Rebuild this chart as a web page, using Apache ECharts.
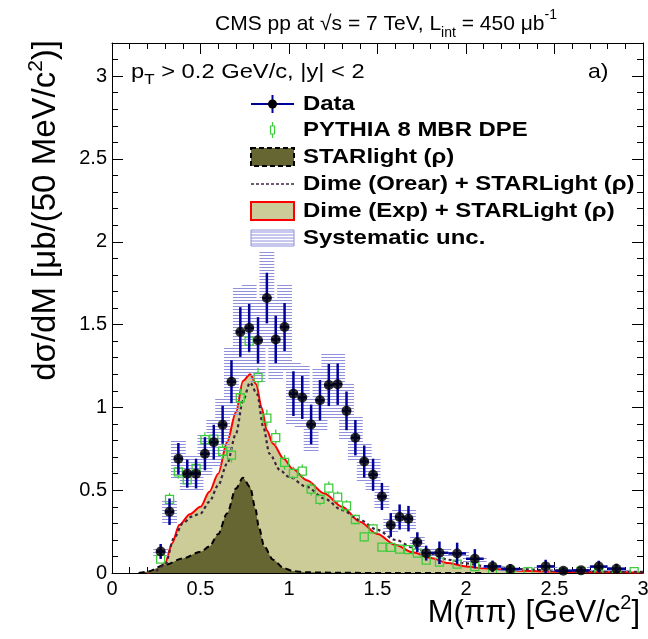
<!DOCTYPE html>
<html>
<head>
<meta charset="utf-8">
<title>CMS pp 7 TeV - M(pipi)</title>
<script src="https://cdn.jsdelivr.net/npm/echarts@6/dist/echarts.min.js"></script>
<style>
  html, body { margin: 0; padding: 0; background: #fff; }
  #chart { width: 648px; height: 639px; }
</style>
</head>
<body>
<div id="chart"></div>
<script>
// ---- data ----
// measured points (bin centre, value, stat error, syst error)
const dataX = [0.275, 0.325, 0.375, 0.425, 0.475, 0.525, 0.575, 0.625, 0.675, 0.725,
  0.775, 0.825, 0.875, 0.925, 0.975, 1.025, 1.075, 1.125, 1.175, 1.225,
  1.275, 1.325, 1.375, 1.425, 1.475, 1.525, 1.575, 1.625, 1.675, 1.725,
  1.775, 1.85, 1.95, 2.05, 2.15, 2.25, 2.45, 2.55, 2.65, 2.75, 2.85];
const dataY = [0.13, 0.37, 0.69, 0.60, 0.60, 0.72, 0.79, 0.895, 1.155, 1.455,
  1.48, 1.405, 1.66, 1.41, 1.485, 1.083, 1.06, 0.897, 1.043, 1.135,
  1.14, 0.979, 0.817, 0.673, 0.593, 0.462, 0.29, 0.338, 0.328, 0.186,
  0.12, 0.122, 0.118, 0.086, 0.04, 0.024, 0.04, 0.014, 0.016, 0.039, 0.026];
const dataStat = [0.045, 0.08, 0.095, 0.085, 0.09, 0.10, 0.105, 0.115, 0.13, 0.15,
  0.145, 0.14, 0.153, 0.143, 0.145, 0.135, 0.13, 0.12, 0.122, 0.127,
  0.125, 0.117, 0.107, 0.097, 0.097, 0.082, 0.072, 0.076, 0.077, 0.06,
  0.045, 0.068, 0.065, 0.058, 0.035, 0.03, 0.04, 0.02, 0.02, 0.035, 0.03];
const dataSyst = [0.03, 0.07, 0.12, 0.11, 0.11, 0.13, 0.14, 0.16, 0.21, 0.27,
  0.27, 0.25, 0.29, 0.25, 0.26, 0.19, 0.19, 0.16, 0.19, 0.20,
  0.20, 0.17, 0.14, 0.12, 0.10, 0.08, 0.05, 0.06, 0.06, 0.035,
  0.025, 0.025, 0.025, 0.02, 0.01, 0.008, 0.01, 0.005, 0.005, 0.01, 0.008];
// half bin widths (50 MeV bins, then 100 MeV bins above 1.8)
const dataHalfBin = [
  0.025, 0.025, 0.025, 0.025, 0.025, 0.025, 0.025, 0.025, 0.025, 0.025,
  0.025, 0.025, 0.025, 0.025, 0.025, 0.025, 0.025, 0.025, 0.025, 0.025,
  0.025, 0.025, 0.025, 0.025, 0.025, 0.025, 0.025, 0.025, 0.025, 0.025,
  0.025, 0.05, 0.05, 0.05, 0.05, 0.05, 0.05, 0.05, 0.05, 0.05, 0.05];

// PYTHIA 8 MBR DPE
const pyX = [0.275, 0.325, 0.375, 0.425, 0.475, 0.525, 0.575, 0.625, 0.675, 0.725,
  0.775, 0.825, 0.875, 0.925, 0.975, 1.025, 1.075, 1.125, 1.175, 1.225,
  1.275, 1.325, 1.375, 1.425, 1.475, 1.525, 1.575, 1.625, 1.675, 1.725,
  1.775, 1.85, 1.95, 2.05, 2.15, 2.25, 2.35, 2.45, 2.55, 2.65, 2.75, 2.85, 2.95];
const pyY = [0.084, 0.444, 0.61, 0.562, 0.632, 0.805, 0.808, 0.735, 0.712, 1.058,
  1.40, 1.18, 0.935, 0.817, 0.668, 0.602, 0.615, 0.507, 0.444, 0.512,
  0.458, 0.405, 0.323, 0.218, 0.267, 0.156, 0.155, 0.144, 0.141, 0.12,
  0.078, 0.066, 0.054, 0.038, 0.02, 0.012, 0.008, 0.008, 0.004, 0.01, 0.006, 0.006, 0.008];
const pyErr = [0.02, 0.04, 0.04, 0.04, 0.04, 0.045, 0.045, 0.045, 0.045, 0.055,
  0.07, 0.06, 0.05, 0.05, 0.045, 0.04, 0.04, 0.04, 0.035, 0.04,
  0.035, 0.035, 0.03, 0.03, 0.03, 0.025, 0.025, 0.02, 0.02, 0.02,
  0.015, 0.01, 0.01, 0.008, 0.006, 0.004, 0.003, 0.003, 0.002, 0.003, 0.002, 0.002, 0.003];

// STARlight (rho)
const starX = [0.15, 0.2, 0.3, 0.4, 0.5, 0.55, 0.6, 0.65, 0.7, 0.74, 0.78, 0.81, 0.83, 0.86, 0.91, 0.97, 1.02, 1.1, 1.3, 1.6, 2.0, 2.1];
const starY = [0, 0.008, 0.05, 0.088, 0.128, 0.16, 0.235, 0.36, 0.51, 0.575, 0.52, 0.39, 0.275, 0.16, 0.08, 0.03, 0.012, 0.004, 0.001, 0, 0, 0];

// Dime (Exp) + STARLight
const expX = [0.2, 0.25, 0.3, 0.34, 0.38, 0.44, 0.5, 0.55, 0.6, 0.65, 0.7, 0.74, 0.78, 0.815, 0.845, 0.875, 0.91, 0.97, 1.02,
  1.1, 1.2, 1.3, 1.4, 1.5, 1.6, 1.7, 1.8, 1.9, 2.0, 2.1, 2.3, 2.5, 2.7, 2.9, 3.0];
const expY = [0, 0.012, 0.06, 0.18, 0.29, 0.355, 0.40, 0.49, 0.60, 0.79, 0.97, 1.16, 1.2, 1.14, 1.0, 0.86, 0.78, 0.69, 0.63,
  0.56, 0.48, 0.40, 0.31, 0.235, 0.17, 0.125, 0.09, 0.06, 0.04, 0.028, 0.014, 0.008, 0.005, 0.004, 0.003];

// Dime (Orear) + STARLight
const orearX = [0.25, 0.3, 0.35, 0.4, 0.45, 0.5, 0.55, 0.6, 0.65, 0.7, 0.74, 0.78, 0.82, 0.855, 0.89, 0.95, 1.0,
  1.1, 1.2, 1.3, 1.4, 1.5, 1.6, 1.7, 1.8, 1.9, 2.0, 2.1, 2.3, 2.5, 2.7, 2.9, 3.0];
const orearY = [0.01, 0.05, 0.21, 0.30, 0.34, 0.36, 0.43, 0.53, 0.66, 0.84, 1.04, 1.15, 1.08, 0.88, 0.72, 0.62, 0.58,
  0.52, 0.45, 0.38, 0.32, 0.26, 0.20, 0.155, 0.115, 0.08, 0.058, 0.042, 0.024, 0.014, 0.01, 0.008, 0.007];

const FONT = 'Liberation Sans';
const DATA_BLUE = '#000099';
const PY_GREEN = '#3ccc3c';
const HATCH = '#9090dc';
const KHAKI = '#cccc99';
const OLIVE = '#666633';
const OREAR = '#3d2340';

const chart = echarts.init(document.getElementById('chart'));

function pairs(xs, ys) {
  return xs.map((x, i) => [x, ys[i]]);
}

// data error bars (vertical stat + horizontal bin width)
function errBarItem(params, api) {
  const x = api.value(0), y = api.value(1), e = api.value(2), hw = api.value(3);
  const c = api.coord([x, y]);
  const t = api.coord([x, y + e]);
  const b = api.coord([x, Math.max(y - e, 0)]);
  const l = api.coord([x - hw, y]);
  const r = api.coord([x + hw, y]);
  const st = { stroke: DATA_BLUE, lineWidth: 2.5 };
  return {
    type: 'group',
    children: [
      { type: 'line', shape: { x1: c[0], y1: t[1], x2: c[0], y2: b[1] }, style: st },
      { type: 'line', shape: { x1: l[0], y1: c[1], x2: r[0], y2: c[1] }, style: st }
    ]
  };
}

// systematic band: boxes filled with horizontal hatch lines
function systItem(params, api) {
  const x = api.value(0), y = api.value(1), s = api.value(2), hw = api.value(3) + 0.017;
  const p1 = api.coord([x - hw, y + s]);
  const p2 = api.coord([x + hw, Math.max(y - s, 0)]);
  const kids = [];
  for (let py = Math.ceil(p1[1] / 3) * 3; py <= p2[1]; py += 3) {
    kids.push({
      type: 'line',
      shape: { x1: p1[0], y1: py + 0.5, x2: p2[0], y2: py + 0.5 },
      style: { stroke: HATCH, lineWidth: 1 }
    });
  }
  return { type: 'group', children: kids };
}

// PYTHIA: open squares with error bars
function pyItem(params, api) {
  const x = api.value(0), y = api.value(1), e = api.value(2);
  const c = api.coord([x, y]);
  const t = api.coord([x, y + e]);
  const b = api.coord([x, Math.max(y - e, 0)]);
  const h = 4;
  const st = { stroke: PY_GREEN, lineWidth: 1.3, fill: 'none' };
  const kids = [
    { type: 'rect', shape: { x: c[0] - h, y: c[1] - h, width: 2 * h, height: 2 * h }, style: st }
  ];
  if (t[1] < c[1] - h) kids.push({ type: 'line', shape: { x1: c[0], y1: t[1], x2: c[0], y2: c[1] - h }, style: st });
  if (b[1] > c[1] + h) kids.push({ type: 'line', shape: { x1: c[0], y1: c[1] + h, x2: c[0], y2: b[1] }, style: st });
  return { type: 'group', children: kids };
}

const tickLabel = { fontFamily: FONT, fontSize: 20, color: '#000' };

function xAx(pos, labels) {
  return {
    type: 'value', min: 0, max: 3, interval: 0.5, position: pos,
    axisLine: { show: true, onZero: false, lineStyle: { color: '#000', width: 1 } },
    axisTick: { show: true, inside: true, length: 11, lineStyle: { color: '#000' } },
    minorTick: { show: true, splitNumber: 5, length: 6, lineStyle: { color: '#000' } },
    splitLine: { show: false },
    axisLabel: labels ? Object.assign({ margin: 6 }, tickLabel) : { show: false }
  };
}

function yAx(pos, major, labels) {
  return {
    type: 'value', min: 0, max: 3.2, interval: major ? 0.5 : 0.1, position: pos,
    axisLine: { show: major, onZero: false, lineStyle: { color: '#000', width: 1 } },
    axisTick: { show: true, inside: true, length: major ? 11 : 6, lineStyle: { color: '#000' } },
    splitLine: { show: false },
    axisLabel: labels ? Object.assign({
      margin: 5,
      formatter: v => (v <= 3.001 ? String(v) : '')
    }, tickLabel) : { show: false }
  };
}

const xAxes = [xAx('bottom', true), xAx('top', false)];
const yAxes = [yAx('left', true, true), yAx('left', false, false), yAx('right', true, false), yAx('right', false, false)];

const supStyle = size => ({ fontFamily: FONT, fontSize: size, lineHeight: size, verticalAlign: 'top', fill: '#000' });
const subStyle = size => ({ fontFamily: FONT, fontSize: size, lineHeight: size, verticalAlign: 'bottom', fill: '#000' });

// legend drawn by hand, ROOT style
const LX = 251, LW = 43, TX = 303;
const rowY = [104, 130, 157, 184, 211, 238];
const legendText = [
  'Data',
  'PYTHIA 8 MBR DPE',
  'STARlight (ρ)',
  'Dime (Orear) + STARLight (ρ)',
  'Dime (Exp) + STARLight (ρ)',
  'Systematic unc.'
];
const hatchLines = [];
for (let k = 0; k < 5; k++) {
  hatchLines.push({
    type: 'line', shape: { x1: LX, y1: rowY[5] - 6 + 3 * k, x2: LX + LW, y2: rowY[5] - 6 + 3 * k },
    style: { stroke: HATCH, lineWidth: 1 }
  });
}
const graphics = [
  // axis titles
  {
    type: 'text', x: 46, y: 40, rotation: Math.PI / 2,
    style: {
      text: 'dσ/dM [μb/(50 MeV/c{sup|2})]', fontFamily: FONT, fontSize: 33, fill: '#000',
      align: 'right', verticalAlign: 'middle', lineHeight: 40,
      rich: { sup: supStyle(21) }
    }
  },
  {
    type: 'text', x: 640, y: 613,
    style: {
      text: 'M(ππ) [GeV/c{sup|2}]', fontFamily: FONT, fontSize: 31, fill: '#000',
      align: 'right', verticalAlign: 'middle', lineHeight: 40,
      rich: { sup: supStyle(20) }
    }
  },
  {
    type: 'text', x: 131, y: 72, scaleX: 1.13,
    style: {
      text: 'p{sub|T} > 0.2 GeV/c, |y| < 2', fontFamily: FONT, fontSize: 21, fill: '#000',
      verticalAlign: 'middle', lineHeight: 30,
      rich: { sub: subStyle(15) }
    }
  },
  { type: 'text', x: 588, y: 72, scaleX: 1.1, style: { text: 'a)', fontFamily: FONT, fontSize: 21, fill: '#000', verticalAlign: 'middle' } },
  // Data
  { type: 'line', shape: { x1: LX, y1: rowY[0], x2: LX + LW, y2: rowY[0] }, style: { stroke: DATA_BLUE, lineWidth: 2 } },
  { type: 'line', shape: { x1: LX + LW / 2, y1: rowY[0] - 9, x2: LX + LW / 2, y2: rowY[0] + 9 }, style: { stroke: DATA_BLUE, lineWidth: 2 } },
  { type: 'circle', shape: { cx: LX + LW / 2, cy: rowY[0], r: 4.5 }, style: { fill: '#000' } },
  // PYTHIA
  { type: 'rect', shape: { x: LX + LW / 2 - 2, y: rowY[1] - 4, width: 4, height: 8 }, style: { fill: 'none', stroke: PY_GREEN, lineWidth: 1.2 } },
  { type: 'line', shape: { x1: LX + LW / 2, y1: rowY[1] - 8, x2: LX + LW / 2, y2: rowY[1] - 4 }, style: { stroke: PY_GREEN, lineWidth: 1.2 } },
  { type: 'line', shape: { x1: LX + LW / 2, y1: rowY[1] + 4, x2: LX + LW / 2, y2: rowY[1] + 8 }, style: { stroke: PY_GREEN, lineWidth: 1.2 } },
  // STARlight
  { type: 'rect', shape: { x: LX, y: rowY[2] - 9, width: LW, height: 18 }, style: { fill: OLIVE, stroke: '#000', lineWidth: 2, lineDash: [5, 3] } },
  // Dime Orear
  { type: 'line', shape: { x1: LX, y1: rowY[3], x2: LX + LW, y2: rowY[3] }, style: { stroke: OREAR, lineWidth: 1.5, lineDash: [3, 2] } },
  // Dime Exp
  { type: 'rect', shape: { x: LX, y: rowY[4] - 9, width: LW, height: 18 }, style: { fill: KHAKI, stroke: '#ff0000', lineWidth: 2 } },
  // Systematic
  { type: 'rect', shape: { x: LX, y: rowY[5] - 8, width: LW, height: 16 }, style: { fill: 'none', stroke: HATCH, lineWidth: 1 } }
].concat(hatchLines).concat(legendText.map((t, i) => ({
  type: 'text', x: TX, y: rowY[i], scaleX: 1.14,
  style: { text: t, fontFamily: FONT, fontSize: 21, fontWeight: 'bold', fill: '#000', verticalAlign: 'middle' }
})));

const option = {
  animation: false,
  backgroundColor: '#fff',
  title: {
    text: 'CMS pp at √s = 7 TeV, L{sub|int} = 450 μb{sup|-1}',
    left: 210, top: 3,
    textStyle: {
      fontFamily: FONT, fontSize: 21, fontWeight: 'normal', color: '#000', lineHeight: 32,
      rich: {
        sub: { fontFamily: FONT, fontSize: 14, lineHeight: 14, verticalAlign: 'bottom', color: '#000' },
        sup: { fontFamily: FONT, fontSize: 14, lineHeight: 14, verticalAlign: 'top', color: '#000' }
      }
    }
  },
  grid: { left: 112, right: 5, top: 43, bottom: 66, containLabel: false, outerBoundsMode: 'none' },
  xAxis: xAxes,
  yAxis: yAxes,
  graphic: graphics,
  series: [
    {
      name: 'Dime (Exp) + STARLight (ρ)', type: 'line', xAxisIndex: 0, yAxisIndex: 0,
      data: pairs(expX, expY), smooth: 0.3, smoothMonotone: 'x', showSymbol: false,
      lineStyle: { color: '#ff0000', width: 2 }, areaStyle: { color: KHAKI, opacity: 1 }, z: 1
    },
    {
      name: 'STARlight (ρ)', type: 'line', xAxisIndex: 0, yAxisIndex: 0,
      data: pairs(starX, starY), smooth: 0.3, smoothMonotone: 'x', showSymbol: false,
      lineStyle: { color: '#000', width: 2, type: [6, 4] }, areaStyle: { color: OLIVE, opacity: 1 }, z: 2
    },
    {
      name: 'Dime (Orear) + STARLight (ρ)', type: 'line', xAxisIndex: 0, yAxisIndex: 0,
      data: pairs(orearX, orearY), smooth: 0.3, smoothMonotone: 'x', showSymbol: false,
      lineStyle: { color: OREAR, width: 2.2, type: [3, 3] }, z: 3
    },
    {
      name: 'Systematic unc.', type: 'custom', xAxisIndex: 0, yAxisIndex: 0, clip: true,
      renderItem: systItem, z: 4,
      data: dataX.map((x, i) => [x, dataY[i], dataSyst[i], dataHalfBin[i]])
    },
    {
      name: 'PYTHIA 8 MBR DPE', type: 'custom', xAxisIndex: 0, yAxisIndex: 0, clip: true,
      renderItem: pyItem, z: 5,
      data: pyX.map((x, i) => [x, pyY[i], pyErr[i]])
    },
    {
      name: 'Data errors', type: 'custom', xAxisIndex: 0, yAxisIndex: 0, clip: true,
      renderItem: errBarItem, z: 6,
      data: dataX.map((x, i) => [x, dataY[i], dataStat[i], dataHalfBin[i]])
    },
    {
      name: 'Data', type: 'scatter', xAxisIndex: 0, yAxisIndex: 0,
      data: pairs(dataX, dataY), symbol: 'circle', symbolSize: 10,
      itemStyle: { color: '#000' }, z: 7
    }
  ]
};

chart.setOption(option);
</script>
</body>
</html>
